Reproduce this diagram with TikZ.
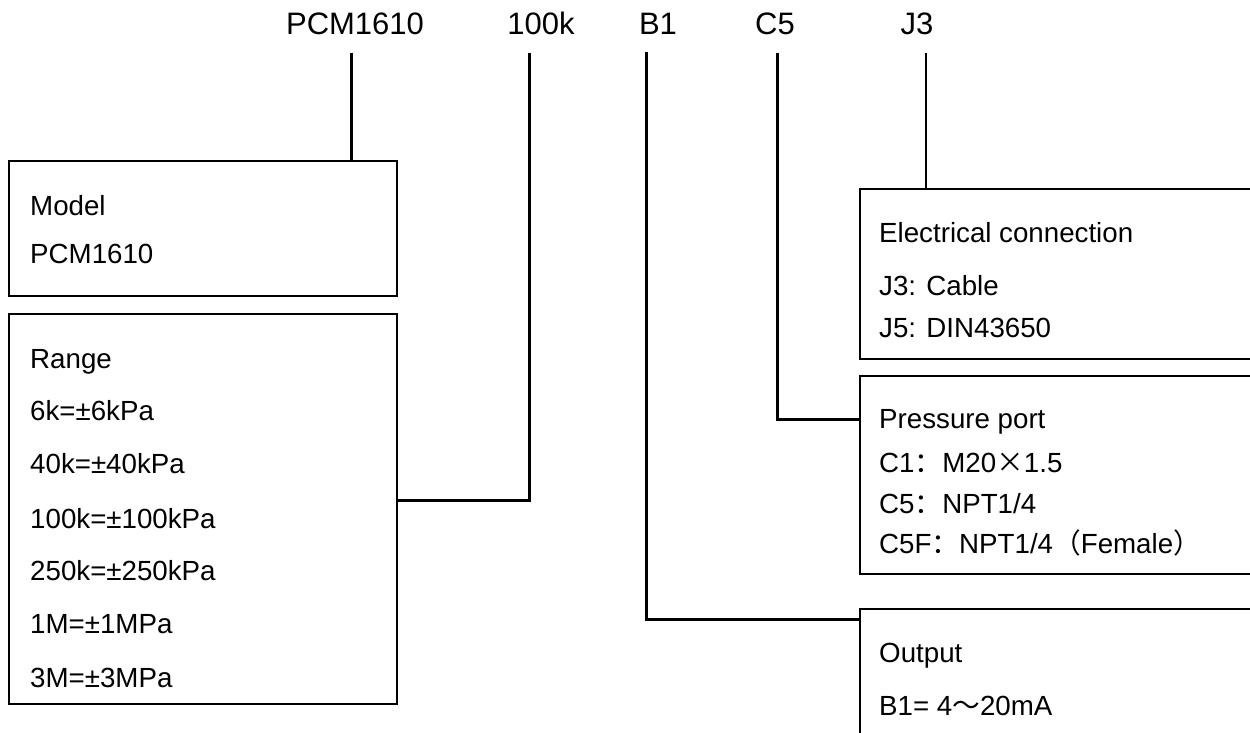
\documentclass[tikz,border=0pt]{standalone}
\usepackage{fontspec}
\setmainfont{Liberation Sans}
\newfontfamily\cjk{Noto Sans CJK SC}
\newcommand{\fwchar}[1]{{\cjk #1}}
\usetikzlibrary{positioning}

\begin{document}
\begin{tikzpicture}[x=1pt, y=-1pt,
                    every node/.style={inner sep=0pt, font=\fontsize{27.7}{32}\selectfont},
                    box/.style={draw, line width=1.8pt, anchor=north west},
                    code/.style={anchor=base, font=\fontsize{31}{36}\selectfont},
                    entry/.style={anchor=base west},
                    lead/.style={draw, line width=3pt},
                    thin lead/.style={draw, line width=1.1pt}]
\path[use as bounding box, clip] (0,0) rectangle (1250,733);
% part code along the top
\node[code] (pcm) at (355,35) {PCM1610};
\node[code] (k100) at (541,35) {100k};
\node[code] (b1) at (658,35) {B1};
\node[code] (c5) at (775,35) {C5};
\node[code] (j3) at (917,35) {J3};
% boxes
\node[box, minimum width=388pt, minimum height=135pt] (model) at (8,160) {};
\node[box, minimum width=388pt, minimum height=390pt] (range) at (8,313) {};
\node[box, minimum width=420pt, minimum height=170pt] (elec) at (859,188) {};
\node[box, minimum width=420pt, minimum height=198pt] (press) at (859,375) {};
\node[box, minimum width=420pt, minimum height=160pt] (output) at (859,608) {};
% box texts
\foreach \txt/\yb [count=\i] in {Model/215, PCM1610/263}
  \node[entry] (model-\i) at (30,\yb) {\txt};
\foreach \txt/\yb [count=\i] in {Range/368, 6k=±6kPa/420, 40k=±40kPa/473,
    100k=±100kPa/528, 250k=±250kPa/580, 1M=±1MPa/633, 3M=±3MPa/687}
  \node[entry] (range-\i) at (30,\yb) {\txt};
\foreach \txt/\yb [count=\i] in {Electrical connection/242, J3: Cable/295, J5: DIN43650/337}
  \node[entry] (elec-\i) at (879,\yb) {\txt};
\foreach \txt/\yb [count=\i] in {Pressure port/428, C1\fwchar{：}M20\fwchar{×}1.5/472,
    {C5\fwchar{：}NPT1/4}/513, {C5F\fwchar{：}NPT1/4\fwchar{（}Female\fwchar{）}}/553}
  \node[entry] (press-\i) at (879,\yb) {\txt};
\foreach \txt/\yb [count=\i] in {Output/662, B1= 4\fwchar{～}20mA/715}
  \node[entry] (output-\i) at (879,\yb) {\txt};
% leader lines
\coordinate (pcm-foot) at ([shift={(-4,17)}]pcm.south);
\draw[lead] (pcm-foot) -- (pcm-foot |- model.north);
\draw[lead] ([shift={(-12,17)}]k100.south) |- ([yshift=8pt]range.east);
\draw[lead] ([shift={(-12,17)}]b1.south) |- ([yshift=-11pt]output.north west);
\draw[lead] ([shift={(2,17)}]c5.south) |- ([yshift=-44pt]press.north west);
\coordinate (j3-foot) at ([shift={(9,17)}]j3.south);
\draw[thin lead] (j3-foot) -- (j3-foot |- elec.north);
\end{tikzpicture}
\end{document}
